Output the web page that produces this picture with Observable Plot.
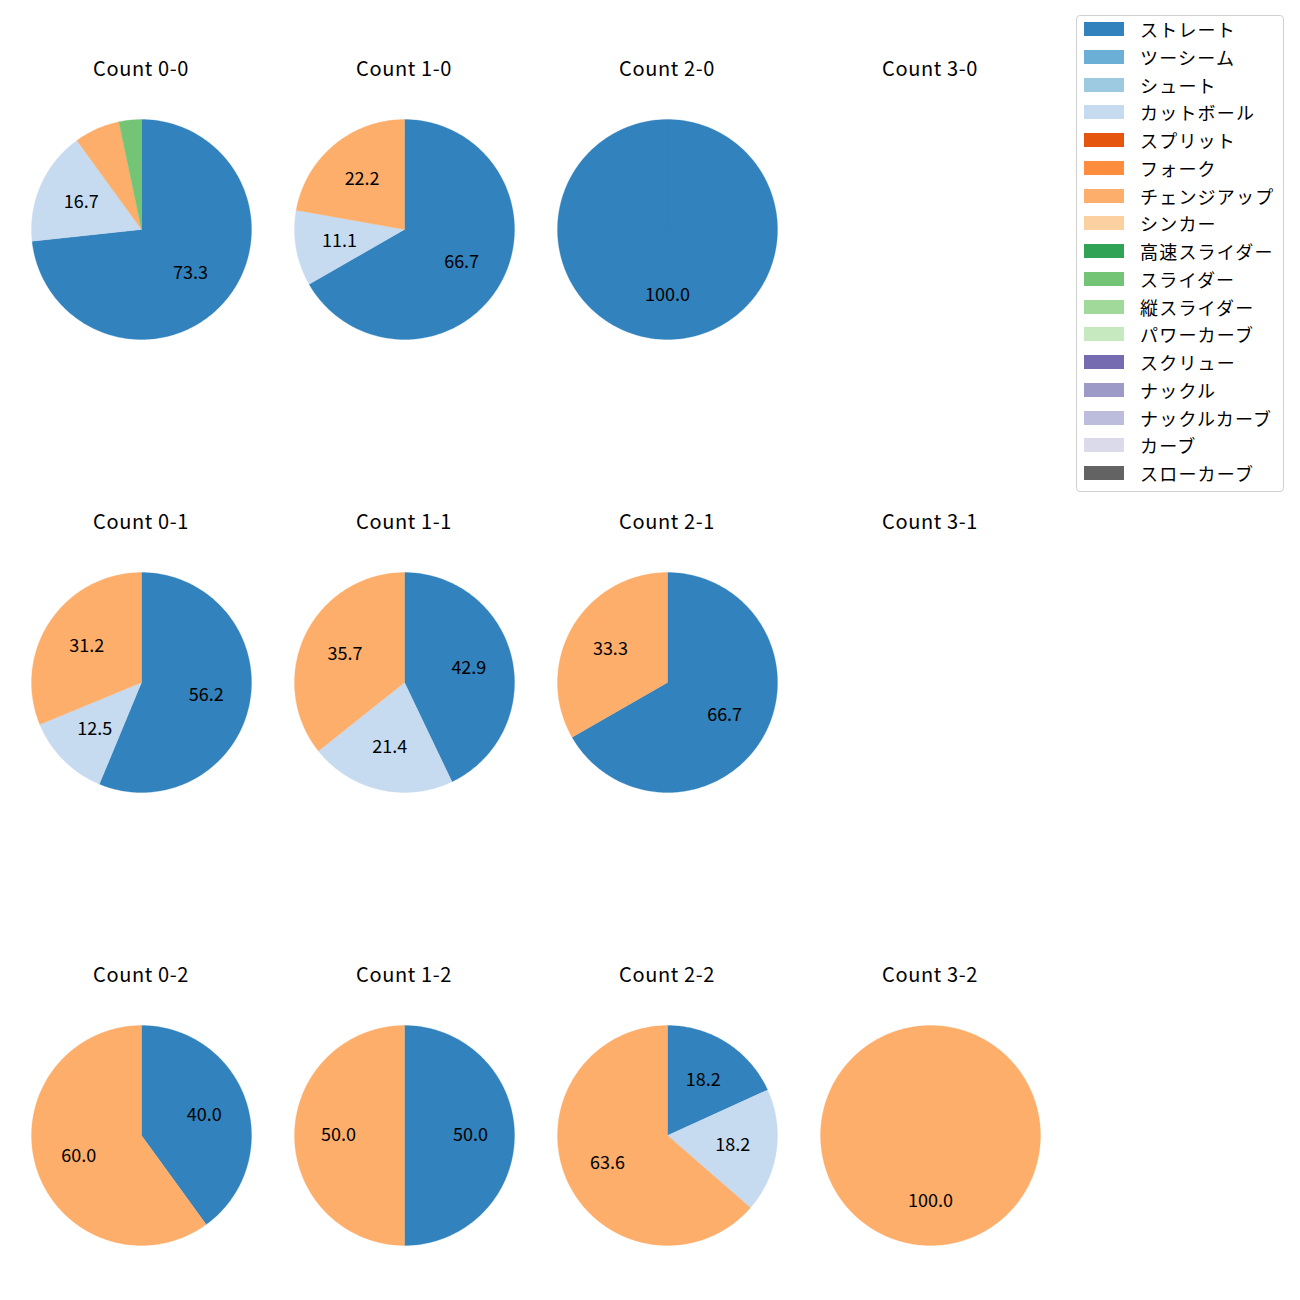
<!DOCTYPE html>
<html>
<head>
<meta charset="utf-8">
<script src="https://cdn.jsdelivr.net/npm/d3@7"></script>
<script src="https://cdn.jsdelivr.net/npm/@observablehq/plot@0.6"></script>
<style>
  html, body { margin: 0; padding: 0; background: #fff; }
  body { font-family: "Noto Sans CJK JP", "Noto Sans", sans-serif; }
  #root { position: relative; width: 1300px; height: 1300px; }
  .title { position: absolute; width: 240px; text-align: center; font-size: 20px; letter-spacing: 0.6px; color: #000; line-height: 24px; }
  .pie { position: absolute; }
  #legend { position: absolute; left: 1076px; top: 15px; width: 208px; height: 477px; border: 1px solid #d0d0d0; border-radius: 4px; box-sizing: border-box; }
  .item { position: absolute; left: 0; height: 24px; display: flex; align-items: center; font-size: 18px; letter-spacing: 1.2px; white-space: nowrap; }
  .sw { width: 40px; height: 14px; margin-left: 7px; margin-right: 16px; flex: none; }
</style>
</head>
<body>
<div id="root"></div>
<script>
// ---- data ----
const counts = ["0-0", "1-0", "2-0", "3-0", "0-1", "1-1", "2-1", "3-1", "0-2", "1-2", "2-2", "3-2"];
const pitchTypes = ["ストレート", "ツーシーム", "シュート", "カットボール", "スプリット", "フォーク", "チェンジアップ", "シンカー", "高速スライダー", "スライダー", "縦スライダー", "パワーカーブ", "スクリュー", "ナックル", "ナックルカーブ", "カーブ", "スローカーブ"];
const pitchColors = ["#3182bd", "#6baed6", "#9ecae1", "#c6dbef", "#e6550d", "#fd8d3c", "#fdae6b", "#fdd0a2", "#31a354", "#74c476", "#a1d99b", "#c7e9c0", "#756bb1", "#9e9ac8", "#bcbddc", "#dadaeb", "#636363"];
// percentages per count (same order as counts)
const straight = [73.3, 66.7, 100.0, 0, 56.2, 42.9, 66.7, 0, 40.0, 50.0, 18.2, 0];
const cutter   = [16.7, 11.1, 0, 0, 12.5, 21.4, 0, 0, 0, 0, 18.2, 0];
const changeup = [6.7, 22.2, 0, 0, 31.2, 35.7, 33.3, 0, 60.0, 50.0, 63.6, 100.0];
const slider   = [3.3, 0, 0, 0, 0, 0, 0, 0, 0, 0, 0, 0];
const series = {"ストレート": straight, "カットボール": cutter, "チェンジアップ": changeup, "スライダー": slider};

// ---- layout ----
const colX = [141, 404, 667, 930];
const rowY = [229, 682, 1135];
const R = 110, HALF = 120;
const root = document.getElementById("root");

counts.forEach((c, i) => {
  const cx = colX[i % 4], cy = rowY[Math.floor(i / 4)];
  const t = document.createElement("div");
  t.className = "title";
  t.textContent = "Count " + c;
  t.style.left = (cx - 120) + "px";
  t.style.top = (cy - 173) + "px";
  root.appendChild(t);

  const slices = pitchTypes.filter(p => series[p] && series[p][i] > 0).map(p => ({type: p, value: series[p][i]}));
  const total = d3.sum(slices, d => d.value);
  const pts = [], labels = [];
  let a0 = 0;
  slices.forEach((s, k) => {
    const a1 = a0 + s.value / total * 2 * Math.PI;
    pts.push({id: k, type: s.type, x: 0, y: 0});
    const n = Math.max(2, Math.ceil((a1 - a0) / (Math.PI / 180)));
    for (let j = 0; j <= n; j++) {
      const a = a0 + (a1 - a0) * j / n;
      pts.push({id: k, type: s.type, x: Math.sin(a), y: Math.cos(a)});
    }
    pts.push({id: k, type: s.type, x: 0, y: 0});
    const m = (a0 + a1) / 2;
    if (s.value >= 10) labels.push({x: 0.6 * Math.sin(m), y: 0.6 * Math.cos(m), text: s.value.toFixed(1)});
    a0 = a1;
  });
  if (!slices.length) return;
  const ext = HALF / R;
  const chart = Plot.plot({
    width: 2 * HALF, height: 2 * HALF,
    margin: 0,
    x: {domain: [-ext, ext], axis: null},
    y: {domain: [-ext, ext], axis: null},
    color: {type: "ordinal", domain: pitchTypes, range: pitchColors},
    style: {fontFamily: '"Noto Sans CJK JP", sans-serif', background: "transparent", overflow: "visible"},
    marks: [
      Plot.line(pts, {x: "x", y: "y", z: "id", fill: "type", stroke: "type", strokeWidth: 0.3, curve: "linear"}),
      Plot.text(labels, {x: "x", y: "y", text: "text", fill: "#000", fontSize: 18, letterSpacing: 0.5})
    ]
  });
  chart.classList.add("pie");
  chart.style.left = (cx - HALF) + "px";
  chart.style.top = (cy - HALF) + "px";
  root.appendChild(chart);
});

// legend
const leg = document.createElement("div");
leg.id = "legend";
pitchTypes.forEach((p, k) => {
  const it = document.createElement("div");
  it.className = "item";
  it.style.top = (14 + k * 27.75 - 12 - 1) + "px";
  const sw = document.createElement("div");
  sw.className = "sw";
  sw.style.background = pitchColors[k];
  const tx = document.createElement("span");
  tx.textContent = p;
  it.appendChild(sw); it.appendChild(tx);
  leg.appendChild(it);
});
root.appendChild(leg);
</script>
</body>
</html>
